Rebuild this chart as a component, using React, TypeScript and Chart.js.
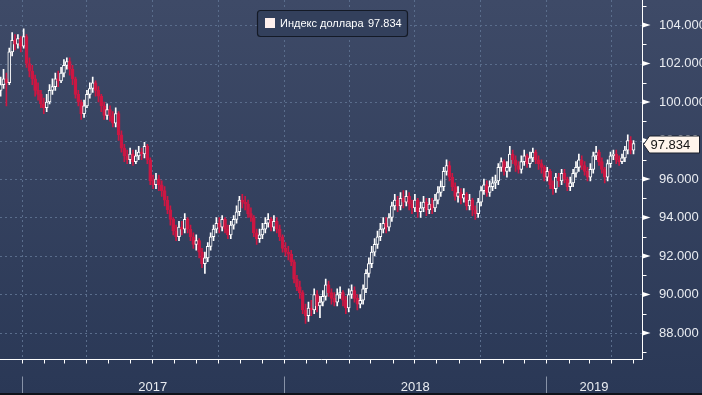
import React, { useEffect, useRef } from "react";
import { Chart, registerables } from "chart.js";

Chart.register(...registerables);

// ---------- data ----------
const SERIES_LABEL = "Индекс доллара";
const FIRST_DAY = -29; // candle position, in days from 2017-01-01
const STEP_DAYS = 4; // one candle per 4 calendar days
const FIRST_OPEN = 100.6;

const closes = [
  100.9, 101.2, 101.0, 102.6, 103.2, 103.0, 103.3, 102.9, 103.4, 102.0,
  101.6, 101.2, 100.6, 100.4, 99.9, 99.7, 100.0, 100.6, 100.8, 101.2,
  101.1, 101.5, 101.9, 102.1, 101.7, 101.2, 100.4, 100.0, 99.4, 99.8,
  100.4, 100.7, 101.0, 100.6, 100.3, 99.8, 99.3, 99.6, 99.3, 98.9,
  99.4, 98.3, 97.6, 97.2, 97.0, 97.3, 96.9, 97.2, 97.4, 97.3,
  97.7, 97.0, 95.9, 95.7, 96.0, 95.7, 95.4, 94.9, 94.4, 93.9,
  93.3, 93.0, 93.5, 93.4, 93.9, 93.4, 93.0, 92.6, 92.8, 92.2,
  91.6, 91.9, 92.5, 93.0, 93.4, 93.7, 93.5, 93.9, 93.4, 93.1,
  93.6, 93.9, 94.3, 94.9, 94.8, 94.7, 94.2, 94.0, 93.2, 92.9,
  93.1, 93.4, 93.7, 93.9, 93.5, 93.8, 93.4, 93.0, 92.4, 92.2,
  92.1, 91.7, 90.8, 90.4, 90.1, 89.2, 88.9, 89.3, 89.2, 90.0,
  89.4, 89.6, 89.9, 90.5, 90.1, 89.8, 89.6, 90.0, 90.1, 89.7,
  89.3, 90.0, 90.2, 89.8, 89.5, 89.7, 90.3, 91.1, 91.6, 92.2,
  92.6, 93.0, 93.4, 93.7, 93.5, 94.0, 94.6, 94.9, 94.6, 95.0,
  94.8, 95.1, 94.7, 94.5, 94.9, 94.3, 94.5, 94.8, 94.4, 94.7,
  94.5, 94.9, 95.3, 95.6, 96.4, 96.7, 96.1, 95.6, 95.1, 95.3,
  95.0, 95.2, 94.6, 94.9, 94.4, 94.2, 94.8, 95.4, 95.7, 95.3,
  95.6, 95.8, 95.9, 96.6, 96.9, 96.4, 96.6, 97.3, 97.0, 96.7,
  96.5, 96.9, 97.2, 96.8, 97.1, 97.4, 97.0, 96.8, 96.6, 96.1,
  96.4, 95.7, 95.5, 96.1, 95.9, 96.3, 96.0, 95.6, 95.8, 96.3,
  96.6, 97.0, 96.7, 96.4, 96.1, 96.5, 97.2, 97.4, 96.9, 96.5,
  96.1, 96.8, 97.2, 97.3, 97.0, 96.9, 97.1, 97.5, 98.0, 97.5, 97.834,
];

const highs = [
  101.3, 101.7, 101.5, 102.8, 103.6, 103.5, 103.5, 103.4, 103.8, 103.5,
  102.3, 101.9, 101.4, 101.0, 100.6, 100.2, 100.4, 100.9, 101.2, 101.5,
  101.6, 101.8, 102.2, 102.3, 102.3, 101.9, 101.3, 100.6, 100.1, 100.1,
  100.6, 101.0, 101.3, 101.1, 100.8, 100.4, 100.0, 99.9, 99.8, 99.5,
  99.7, 99.5, 98.5, 97.8, 97.5, 97.6, 97.5, 97.5, 97.7, 97.6,
  97.9, 97.8, 97.1, 96.2, 96.3, 96.2, 95.9, 95.6, 95.1, 94.6,
  94.0, 93.6, 93.8, 93.8, 94.2, 94.0, 93.6, 93.2, 93.1, 92.9,
  92.4, 92.2, 92.7, 93.2, 93.6, 94.0, 94.0, 94.1, 94.0, 93.6,
  93.8, 94.1, 94.6, 95.1, 95.2, 95.1, 94.9, 94.5, 94.1, 93.4,
  93.4, 93.7, 94.0, 94.2, 94.0, 94.1, 94.0, 93.6, 93.1, 92.7,
  92.5, 92.3, 91.8, 91.0, 90.7, 90.2, 89.5, 89.6, 89.7, 90.3,
  90.2, 89.9, 90.2, 90.8, 90.7, 90.3, 90.1, 90.3, 90.4, 90.2,
  89.9, 90.3, 90.5, 90.4, 90.0, 90.0, 90.5, 91.3, 91.9, 92.5,
  92.9, 93.3, 93.7, 94.0, 94.0, 94.2, 94.8, 95.2, 95.1, 95.3,
  95.4, 95.4, 95.3, 94.9, 95.2, 95.0, 94.8, 95.1, 95.0, 95.0,
  95.0, 95.2, 95.6, 95.9, 96.6, 97.0, 96.9, 96.3, 95.8, 95.6,
  95.5, 95.5, 95.3, 95.2, 95.0, 94.6, 95.0, 95.6, 96.0, 95.9,
  95.9, 96.1, 96.2, 96.8, 97.1, 97.0, 96.9, 97.7, 97.5, 97.2,
  96.9, 97.2, 97.5, 97.3, 97.4, 97.6, 97.5, 97.2, 97.0, 96.7,
  96.6, 96.5, 95.9, 96.3, 96.3, 96.5, 96.5, 96.1, 96.1, 96.5,
  96.9, 97.3, 97.2, 96.9, 96.6, 96.8, 97.4, 97.7, 97.5, 97.1,
  96.6, 97.0, 97.4, 97.5, 97.5, 97.2, 97.3, 97.7, 98.3, 98.2, 98.0,
];

const lows = [
  100.3, 100.7, 99.8, 100.9, 102.4, 102.7, 102.8, 102.6, 102.8, 101.8,
  101.3, 100.9, 100.3, 100.1, 99.7, 99.4, 99.5, 99.9, 100.4, 100.6,
  100.8, 101.0, 101.3, 101.7, 101.4, 100.9, 100.2, 99.8, 99.1, 99.2,
  99.7, 100.2, 100.5, 100.3, 100.0, 99.5, 99.1, 99.1, 99.0, 98.7,
  98.7, 98.0, 97.4, 96.9, 96.8, 96.8, 96.7, 96.8, 97.0, 97.0,
  97.1, 96.8, 95.7, 95.5, 95.5, 95.4, 95.1, 94.6, 94.2, 93.6,
  93.1, 92.8, 92.8, 93.1, 93.2, 93.2, 92.8, 92.4, 92.3, 91.9,
  91.4, 91.1, 91.7, 92.3, 92.8, 93.2, 93.2, 93.3, 93.2, 92.9,
  92.9, 93.4, 93.7, 94.1, 94.5, 94.4, 94.0, 93.8, 93.0, 92.6,
  92.7, 92.9, 93.2, 93.5, 93.3, 93.3, 93.2, 92.8, 92.2, 92.0,
  91.8, 91.5, 90.6, 90.2, 89.8, 89.0, 88.5, 88.6, 88.9, 89.0,
  89.1, 88.8, 89.4, 89.7, 89.9, 89.5, 89.4, 89.4, 89.8, 89.4,
  89.0, 89.1, 89.8, 89.6, 89.2, 89.3, 89.5, 90.1, 90.9, 91.4,
  92.0, 92.4, 92.8, 93.2, 93.2, 93.3, 93.8, 94.4, 94.3, 94.4,
  94.5, 94.6, 94.4, 94.2, 94.3, 94.0, 94.0, 94.3, 94.1, 94.2,
  94.2, 94.3, 94.7, 95.1, 95.4, 96.2, 95.9, 95.4, 94.9, 94.8,
  94.7, 94.8, 94.4, 94.4, 94.1, 93.9, 94.0, 94.6, 95.2, 95.1,
  95.1, 95.4, 95.5, 95.7, 96.4, 96.2, 96.1, 96.4, 96.8, 96.4,
  96.3, 96.3, 96.7, 96.6, 96.6, 96.9, 96.8, 96.5, 96.3, 95.9,
  95.9, 95.5, 95.2, 95.3, 95.6, 95.7, 95.8, 95.4, 95.4, 95.6,
  96.1, 96.4, 96.5, 96.2, 95.9, 95.9, 96.3, 97.0, 96.7, 96.3,
  95.8, 95.9, 96.6, 97.0, 96.8, 96.7, 96.8, 96.9, 97.3, 97.3, 97.3,
];

const yTickValues = [88, 90, 92, 94, 96, 98, 100, 102, 104];
const yMinorValues = [87, 89, 91, 93, 95, 97, 99, 101, 103, 105];
const monthStartDays = [
  0, 31, 59, 90, 120, 151, 181, 212, 243, 273, 304, 334,
  365, 396, 424, 455, 485, 516, 546, 577, 608, 638, 669, 699,
  730, 761, 789, 820, 850,
];
const quarterStartDays = [0, 90, 181, 273, 365, 455, 546, 638, 730, 820];
const yearStartDays = [0, 365, 730];
const yearLabels = ["2017", "2018", "2019"];
const yearLabelDays = [182.5, 547.5, 796];

const X_MIN = -29.9;
const X_MAX = 862.8;
const Y_MIN = 86.623;
const Y_MAX = 105.299;

// ---------- style ----------
const FONT = "'Liberation Sans', Arial, sans-serif";
const RED = "#cc1743";
const UP_FILL = "#37445f";
const WHITE = "#ffffff";
const GRID = "#5a6d8c";
const TEXT = "#e9ecf1";

const zeroPadding = (s: any) => {
  s.paddingTop = 0;
  s.paddingBottom = 0;
  s.paddingLeft = 0;
  s.paddingRight = 0;
};

export default function App() {
  const canvasRef = useRef<HTMLCanvasElement | null>(null);

  useEffect(() => {
    const canvas = canvasRef.current;
    if (!canvas) return;

    const days = closes.map((_, i) => FIRST_DAY + i * STEP_DAYS);
    const opens = closes.map((_, i) => (i === 0 ? FIRST_OPEN : closes[i - 1]));
    const isUp = closes.map((c, i) => c >= opens[i]);

    const bodyData = days.map((d, i) => ({
      x: d,
      y: [Math.min(opens[i], closes[i]), Math.max(opens[i], closes[i])],
    }));
    const wickData = days.map((d, i) => ({
      x: d,
      y: [
        Math.min(lows[i], opens[i], closes[i]),
        Math.max(highs[i], opens[i], closes[i]),
      ],
    }));

    const line = (ctx: CanvasRenderingContext2D, x1: number, y1: number, x2: number, y2: number) => {
      ctx.beginPath();
      ctx.moveTo(x1, y1);
      ctx.lineTo(x2, y2);
      ctx.stroke();
    };

    const decor = {
      id: "decor",
      beforeDraw(chart: any) {
        const { ctx, width, height } = chart;
        ctx.save();
        const g = ctx.createLinearGradient(0, 0, 0, height);
        g.addColorStop(0, "#3e4a67");
        g.addColorStop(1, "#2a3856");
        ctx.fillStyle = g;
        ctx.fillRect(0, 0, width, height);
        ctx.fillStyle = "#0f131b";
        ctx.fillRect(0, height - 2, width, 2);
        ctx.restore();
      },
      beforeDatasetsDraw(chart: any) {
        const { ctx, chartArea: a } = chart;
        const xs = chart.scales.x;
        const ys = chart.scales.y;
        ctx.save();
        ctx.strokeStyle = GRID;
        ctx.lineWidth = 1;
        ctx.setLineDash([2, 3]);
        for (const v of yTickValues) {
          const py = Math.round(ys.getPixelForValue(v)) + 0.5;
          line(ctx, a.left, py, a.right, py);
        }
        for (const d of quarterStartDays) {
          const px = Math.round(xs.getPixelForValue(d)) + 0.5;
          line(ctx, px, a.top, px, a.bottom);
        }
        ctx.restore();
      },
      afterDatasetsDraw(chart: any) {
        const { ctx, chartArea: a, height } = chart;
        const xs = chart.scales.x;
        const ys = chart.scales.y;
        ctx.save();
        ctx.setLineDash([]);
        ctx.lineWidth = 1;
        ctx.strokeStyle = WHITE;
        const axX = Math.round(a.right) + 0.5;
        const axY = Math.round(a.bottom) - 0.5;
        // axes
        line(ctx, axX, 0, axX, axY);
        line(ctx, 0, axY, axX, axY);
        // month ticks
        for (const d of monthStartDays) {
          const px = Math.round(xs.getPixelForValue(d)) + 0.5;
          if (px > a.right) continue;
          line(ctx, px, axY, px, axY + 4);
        }
        // y minor ticks
        for (const v of yMinorValues) {
          const py = Math.round(ys.getPixelForValue(v)) + 0.5;
          if (py < 0 || py > a.bottom) continue;
          line(ctx, axX, py, axX + 4, py);
        }
        // y major arrows
        ctx.fillStyle = WHITE;
        for (const v of yTickValues) {
          const py = ys.getPixelForValue(v);
          ctx.beginPath();
          ctx.moveTo(axX - 0.5, py - 2.8);
          ctx.lineTo(axX + 8, py);
          ctx.lineTo(axX - 0.5, py + 2.8);
          ctx.closePath();
          ctx.fill();
        }
        // year separators
        ctx.strokeStyle = "#8792a7";
        for (const d of yearStartDays) {
          const px = Math.round(xs.getPixelForValue(d)) + 0.5;
          line(ctx, px, axY + 17, px, height - 2);
        }

        // last value box
        const last = closes[closes.length - 1];
        const cy = Math.round(ys.getPixelForValue(last)) + 0.5;
        ctx.beginPath();
        ctx.moveTo(axX + 1, cy);
        ctx.lineTo(axX + 7, cy - 8.5);
        ctx.lineTo(699.5, cy - 8.5);
        ctx.lineTo(699.5, cy + 8.5);
        ctx.lineTo(axX + 7, cy + 8.5);
        ctx.closePath();
        ctx.fillStyle = "#fff5ec";
        ctx.fill();
        ctx.strokeStyle = "#1a202c";
        ctx.stroke();
        ctx.fillStyle = "#141414";
        ctx.font = `13px ${FONT}`;
        ctx.textBaseline = "middle";
        ctx.textAlign = "left";
        ctx.fillText(last.toFixed(3), axX + 8, cy + 0.5);

        // legend box
        const lx = 257.5, ly = 10.5, lw = 150, lh = 26, r = 3;
        ctx.beginPath();
        ctx.moveTo(lx + r, ly);
        ctx.lineTo(lx + lw - r, ly);
        ctx.quadraticCurveTo(lx + lw, ly, lx + lw, ly + r);
        ctx.lineTo(lx + lw, ly + lh - r);
        ctx.quadraticCurveTo(lx + lw, ly + lh, lx + lw - r, ly + lh);
        ctx.lineTo(lx + r, ly + lh);
        ctx.quadraticCurveTo(lx, ly + lh, lx, ly + lh - r);
        ctx.lineTo(lx, ly + r);
        ctx.quadraticCurveTo(lx, ly, lx + r, ly);
        ctx.closePath();
        ctx.fillStyle = "#33405c";
        ctx.fill();
        ctx.strokeStyle = "#141a26";
        ctx.lineWidth = 1.2;
        ctx.stroke();
        ctx.fillStyle = "#fff1ee";
        ctx.fillRect(265, 18, 10, 10);
        ctx.fillStyle = WHITE;
        ctx.font = `11px ${FONT}`;
        ctx.fillText(SERIES_LABEL, 280, 23.5);
        ctx.fillText(last.toFixed(3), 368, 23.5);
        ctx.restore();
      },
    };

    const chart = new Chart(canvas, {
      type: "bar",
      data: {
        datasets: [
          {
            label: SERIES_LABEL,
            data: bodyData as any,
            order: 0,
            grouped: false,
            barThickness: 3,
            minBarLength: 1,
            borderWidth: 1,
            borderSkipped: false,
            backgroundColor: isUp.map((u) => (u ? UP_FILL : RED)),
            borderColor: isUp.map((u) => (u ? WHITE : RED)),
          } as any,
          {
            label: "wicks",
            data: wickData as any,
            order: 1,
            grouped: false,
            barThickness: 1,
            borderWidth: 0,
            backgroundColor: isUp.map((u) => (u ? WHITE : RED)),
          } as any,
        ],
      },
      options: {
        animation: false,
        responsive: false,
        devicePixelRatio: 1,
        layout: { padding: 0 },
        plugins: {
          legend: { display: false },
          tooltip: { enabled: false },
        },
        scales: {
          x: {
            type: "linear",
            min: X_MIN,
            max: X_MAX,
            offset: false,
            grid: { display: false },
            border: { display: false },
            afterBuildTicks: (s: any) => {
              s.ticks = yearLabelDays.map((v) => ({ value: v }));
            },
            afterFit: (s: any) => {
              s.height = 35.5;
              zeroPadding(s);
            },
            ticks: {
              autoSkip: false,
              maxRotation: 0,
              minRotation: 0,
              padding: 12.5,
              color: TEXT,
              font: { family: FONT, size: 13 },
              callback: (_v: any, i: number) => yearLabels[i],
            },
          },
          y: {
            type: "linear",
            position: "right",
            min: Y_MIN,
            max: Y_MAX,
            grid: { display: false },
            border: { display: false },
            afterBuildTicks: (s: any) => {
              s.ticks = yTickValues.map((v) => ({ value: v }));
            },
            afterFit: (s: any) => {
              s.width = 60;
              zeroPadding(s);
            },
            ticks: {
              padding: 9,
              color: TEXT,
              font: { family: FONT, size: 13 },
              callback: (v: any) => Number(v).toFixed(3),
            },
          },
        },
      } as any,
      plugins: [decor as any],
    });

    return () => chart.destroy();
  }, []);

  return (
    <div style={{ position: "fixed", left: 0, top: 0, width: 702, height: 395, background: "#33405d" }}>
      <canvas ref={canvasRef} width={702} height={395} style={{ display: "block", width: 702, height: 395 }} />
    </div>
  );
}
